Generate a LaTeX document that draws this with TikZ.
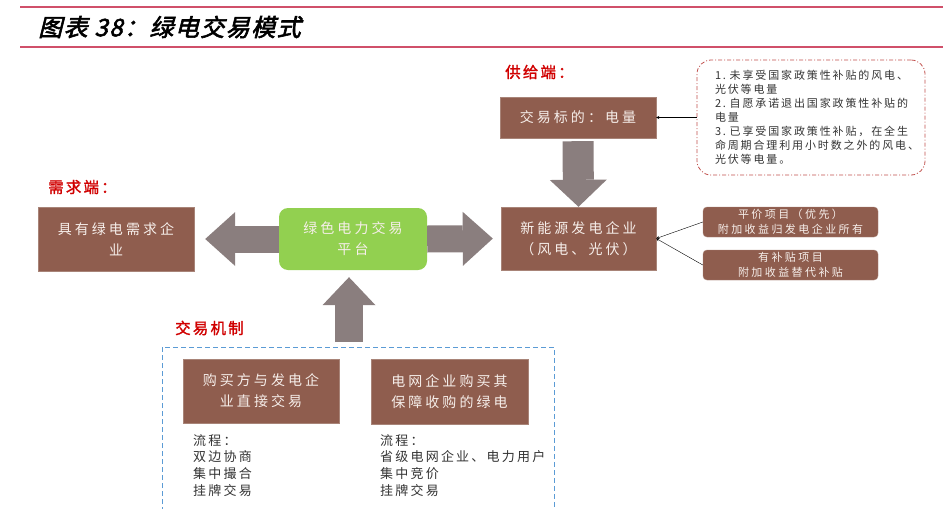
\documentclass[tikz,border=0pt]{standalone}
\usepackage{fontspec}
\setmainfont{Noto Sans CJK SC}
\newfontfamily\cjk{Noto Sans CJK SC}[LetterSpace=22]
\newfontfamily\smallcjk{Noto Sans CJK SC}[LetterSpace=17]
\newfontfamily\labelfont{Noto Sans CJK SC}[FakeBold=1.5,LetterSpace=14]
\newfontfamily\titlefont{Noto Sans CJK SC}[FakeSlant=0.25,FakeBold=2.5,LetterSpace=6]
\usetikzlibrary{arrows.meta}
\definecolor{box colour}{HTML}{8F5D4E}
\definecolor{box edge}{HTML}{A88478}
\definecolor{box text}{HTML}{F6EEEA}
\definecolor{platform colour}{HTML}{92D050}
\definecolor{arrow colour}{HTML}{8A7E7E}
\definecolor{label colour}{HTML}{D00000}
\definecolor{rule colour}{HTML}{D0506A}
\definecolor{note colour}{HTML}{C0504D}
\definecolor{frame colour}{HTML}{5B9BD5}
\colorlet{body colour}{black!80}
\tikzset{
    % thin arrows between boxes
    >=stealth,
    pointer/.style={->, thin, black},
%
    % big grey arrows: shaft / head width / head length
    block arrow/.style args={#1/#2/#3}{
        draw=arrow colour, line width=#1,
        -{Triangle[width=#2, length=#3, line width=0pt, fill=arrow colour]}},
%
    box/.style={
        draw=box edge, fill=box colour, text=box text, align=center,
        inner sep=0, font=\cjk\fontsize{14}{21}\selectfont,
        minimum width=156pt, minimum height=64pt},
    platform/.style={
        box, draw=none, fill=platform colour, rounded corners=9pt,
        minimum width=148pt, minimum height=62pt},
    small box/.style={
        box, rounded corners=4pt, font=\cjk\fontsize{11}{15}\selectfont,
        minimum width=175pt, minimum height=30pt},
    note/.style={
        draw=note colour, rounded corners=14pt, thick,
        dash pattern=on 4pt off 2pt on 1pt off 2pt,
        minimum width=228pt, minimum height=115pt,
        text=body colour, align=left, text width=192pt, inner sep=0,
        font=\smallcjk\fontsize{11}{14}\selectfont},
    side label/.style={
        anchor=west, inner sep=0, text=label colour,
        font=\labelfont\fontsize{15.5}{18}\selectfont},
    flow text/.style={
        anchor=north west, inner sep=0, align=left, text=body colour,
        font=\smallcjk\fontsize{13}{16.8}\selectfont},
    frame/.style={frame colour, thick, dash pattern=on 5pt off 3pt},
    rule/.style={rule colour, line width=1.6pt},
}

\begin{document}
\begin{tikzpicture}[x=1pt, y=-1pt]
\useasboundingbox (0,0) rectangle (943,509);

% heading
\draw [rule] (20,7) -- (943,7);
\draw [rule] (20,47) -- (943,47);
\node [anchor=west, inner sep=0, font=\titlefont\fontsize{24}{28}\selectfont]
    (title) at (38,27) {图表 38：绿电交易模式};

% supply side
\node [side label] (supplylbl) at (505,72) {供给端：};
\node [box, minimum height=41pt] (goal) at (578,117.5) {交易标的：电量};
\node [box, minimum width=155pt, minimum height=63pt] (newe) at (578.5,238.5)
    {新能源发电企业\\（风电、光伏）};
\node [note] (note) at (811,117.5) {%
    1.~未享受国家政策性补贴的风电、\\
    光伏等电量\\
    2.~自愿承诺退出国家政策性补贴的\\
    电量\\
    3.~已享受国家政策性补贴，在全生\\
    命周期合理利用小时数之外的风电、\\
    光伏等电量。};
\node [small box] (flat) at (790.5,222) {平价项目（优先）\\附加收益归发电企业所有};
\node [small box] (subsidy) at (790.5,265) {有补贴项目\\附加收益替代补贴};

% demand side and platform
\node [side label] (demandlbl) at (48,187) {需求端：};
\node [box] (demand) at (116,239) {具有绿电需求企\\业};
\node [platform] (plat) at (353,239) {绿色电力交易\\平台};

% trading mechanism
\node [side label] (mechlbl) at (175,328) {交易机制};
\draw [frame] (162,512) -- (162,347) -- (554,347) -- (554,512);
\coordinate (mechtop) at (349,342);
\node [box] (direct) at (261,391) {购买方与发电企\\业直接交易};
\node [box, minimum width=157pt, minimum height=65pt] (grid) at (449.5,391.5)
    {电网企业购买其\\保障收购的绿电};
\node [flow text] (flow1) at (193,434) {流程：\\双边协商\\集中撮合\\挂牌交易};
\node [flow text] (flow2) at (380,434) {流程：\\省级电网企业、电力用户\\集中竞价\\挂牌交易};

% grey arrows
\draw [block arrow={31pt/57pt/27pt}, shorten <=3pt] (goal.south) -- (newe.north);
\draw [block arrow={27pt/54pt/30pt}, shorten >=11pt] (plat.west) -- (demand.east);
\draw [block arrow={27pt/54pt/30pt}, shorten >=8pt] (plat.east) -- (newe.west);
\draw [block arrow={28pt/53pt/28pt}, shorten >=7pt] (mechtop) -- (mechtop |- plat.south);

% thin arrows
\draw [pointer] (note) -- (goal);
\draw [pointer] (flat.west) -- (newe.east);
\draw [pointer] (subsidy.west) -- (newe.east);

\end{tikzpicture}
\end{document}
